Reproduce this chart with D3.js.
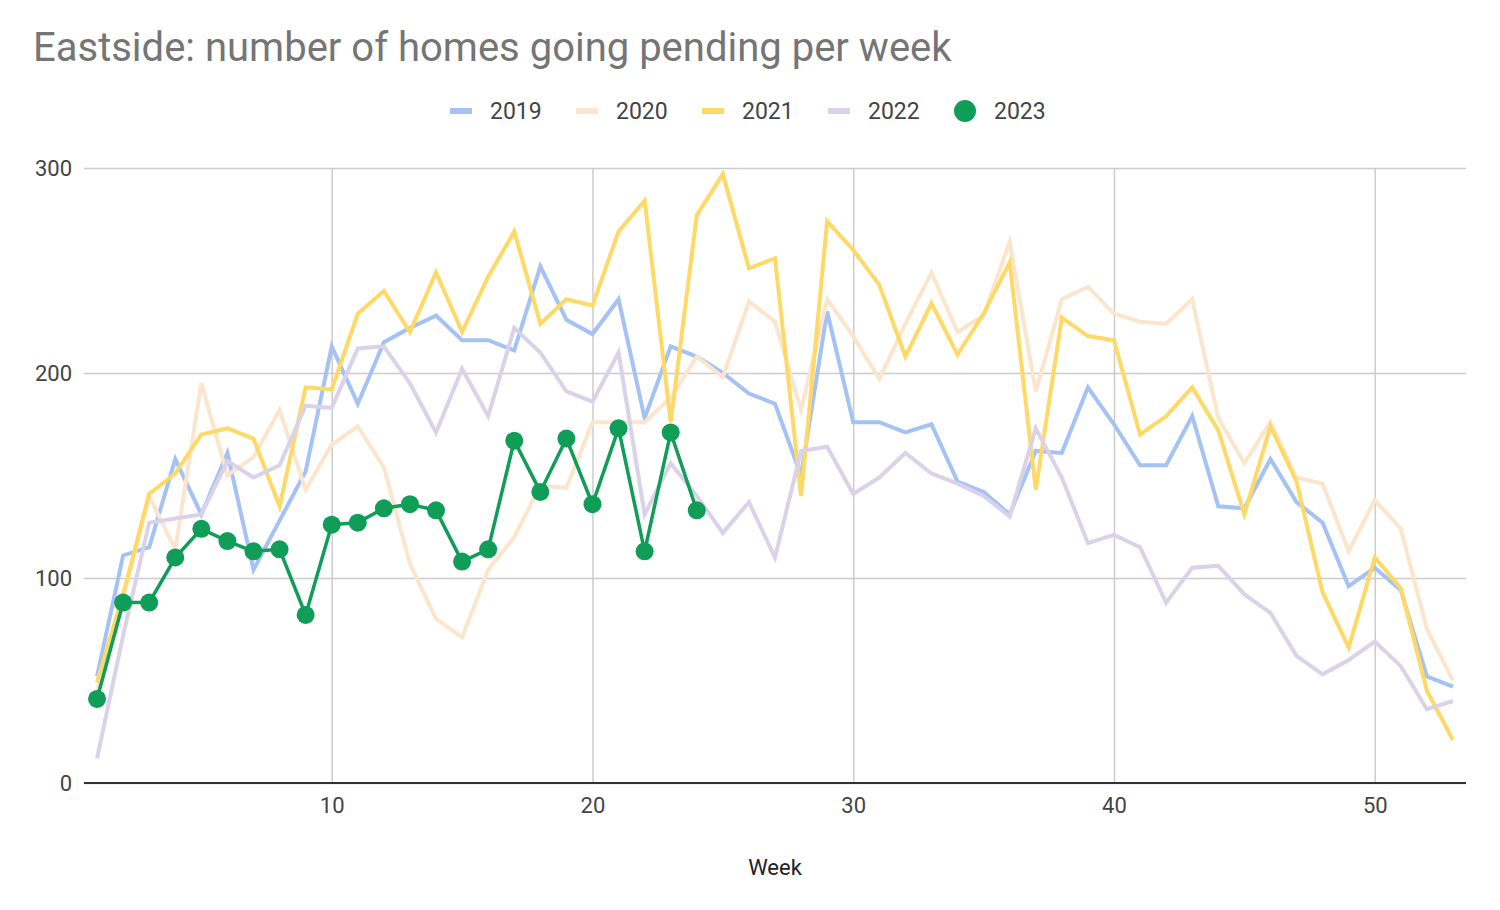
<!DOCTYPE html>
<html>
<head>
<meta charset="utf-8">
<script src="https://cdn.jsdelivr.net/npm/d3@7"></script>
<style>
  body { margin: 0; background: #fff; font-family: Roboto, "Open Sans", sans-serif; }
</style>
</head>
<body>
<svg id="chart" width="1500" height="910"></svg>
<script>
const weeks = d3.range(1, 54);
const y2019 = [52,111,115,158,131,161,104,128,152,213,185,215,222,228,216,216,211,252,226,219,236,178,213,208,200,190,185,150,230,176,176,171,175,147,142,131,162,161,193,175,155,155,179,135,134,158,137,127,96,105,94,52,47];
const y2020 = [45,90,140,114,195,150,159,182,143,165,174,154,107,80,71,104,120,145,144,176,176,176,188,208,198,235,225,182,236,218,197,224,249,220,228,264,191,236,242,229,225,224,236,178,156,176,149,146,113,138,124,75,50];
const y2021 = [49,92,141,151,170,173,168,135,193,192,229,240,220,249,220,247,269,224,236,233,269,284,176,277,297,251,256,140,274,260,243,208,234,209,229,254,143,227,218,216,170,179,193,172,131,174,147,93,66,110,95,45,21];
const y2022 = [12,72,127,129,131,157,149,155,184,183,212,213,195,171,202,179,222,210,191,186,210,131,156,140,122,137,110,162,164,141,149,161,151,146,140,130,173,149,117,121,115,88,105,106,92,83,62,53,60,69,57,36,40];
const y2023 = [41,88,88,110,124,118,113,114,82,126,127,134,136,133,108,114,167,142,168,136,173,113,171,133];
const seriesNames = ["2019", "2020", "2021", "2022", "2023"];
const seriesColors = ["#a4c2f4", "#fce5cd", "#ffd966", "#d9d2e9", "#0f9d58"];
const yTicks = [0, 100, 200, 300];
const xTicks = [10, 20, 30, 40, 50];

const series = [y2019, y2020, y2021, y2022, y2023].map((vals, i) => ({
  name: seriesNames[i],
  color: seriesColors[i],
  values: vals.map((v, j) => ({ week: weeks[j], value: v }))
}));

const svg = d3.select("#chart"),
  margin = { top: 168, right: 34, bottom: 127, left: 84 },
  width = 1500 - margin.left - margin.right,
  height = 910 - margin.top - margin.bottom;

const x = d3.scaleLinear().domain([0.5, 53.5]).range([0, width]);
const y = d3.scaleLinear().domain([0, 300]).range([height, 0]);

// title
svg.append("text")
  .attr("x", 33).attr("y", 61)
  .attr("font-size", 40)
  .attr("fill", "#757575")
  .text("Eastside: number of homes going pending per week");

// legend
const legendX = [450, 576, 702, 828, 954];
const legend = svg.append("g");
series.forEach((s, i) => {
  const lg = legend.append("g").attr("transform", "translate(" + legendX[i] + ",111)");
  if (s.name === "2023") {
    lg.append("circle").attr("cx", 11).attr("cy", 0).attr("r", 11).attr("fill", s.color);
  } else {
    lg.append("rect").attr("x", 0).attr("y", -3).attr("width", 22).attr("height", 6).attr("fill", s.color);
  }
  lg.append("text")
    .attr("x", 40).attr("y", 0).attr("dy", "0.36em")
    .attr("font-size", 23).attr("fill", "#444")
    .text(s.name);
});

const g = svg.append("g")
  .attr("transform", "translate(" + margin.left + "," + margin.top + ")");

// grid
g.append("g")
  .call(d3.axisLeft(y).tickValues(yTicks).tickSize(-width).tickFormat(""))
  .call(a => a.select(".domain").remove())
  .call(a => a.selectAll("line").attr("stroke", "#cccccc").attr("stroke-width", 1.5));

g.append("g")
  .attr("transform", "translate(0," + height + ")")
  .call(d3.axisBottom(x).tickValues(xTicks).tickSize(-height).tickFormat(""))
  .call(a => a.select(".domain").remove())
  .call(a => a.selectAll("line").attr("stroke", "#cccccc").attr("stroke-width", 1.5));

// tick labels
g.append("g")
  .call(d3.axisLeft(y).tickValues(yTicks).tickSize(0).tickPadding(12))
  .call(a => a.select(".domain").remove())
  .call(a => a.selectAll("text").attr("font-size", 22).attr("fill", "#444").attr("font-family", "Roboto"));

g.append("g")
  .attr("transform", "translate(0," + height + ")")
  .call(d3.axisBottom(x).tickValues(xTicks).tickSize(0).tickPadding(14))
  .call(a => a.select(".domain").remove())
  .call(a => a.selectAll("text").attr("font-size", 22).attr("fill", "#444").attr("font-family", "Roboto"));

// lines
const line = d3.line().x(d => x(d.week)).y(d => y(d.value));
series.forEach(s => {
  g.append("path")
    .datum(s.values)
    .attr("fill", "none")
    .attr("stroke", s.color)
    .attr("stroke-width", s.name === "2023" ? 3.5 : 4)
    .attr("stroke-linejoin", "miter")
    .attr("d", line);
});

// 2023 points
g.selectAll(".dot")
  .data(series[4].values)
  .enter().append("circle")
  .attr("class", "dot")
  .attr("cx", d => x(d.week))
  .attr("cy", d => y(d.value))
  .attr("r", 9)
  .attr("fill", seriesColors[4]);

// baseline
g.append("line")
  .attr("x1", 0).attr("x2", width)
  .attr("y1", y(0)).attr("y2", y(0))
  .attr("stroke", "#333").attr("stroke-width", 2);

// axis title
svg.append("text")
  .attr("x", margin.left + width / 2).attr("y", 875)
  .attr("text-anchor", "middle")
  .attr("font-size", 22).attr("fill", "#222")
  .text("Week");
</script>
</body>
</html>
